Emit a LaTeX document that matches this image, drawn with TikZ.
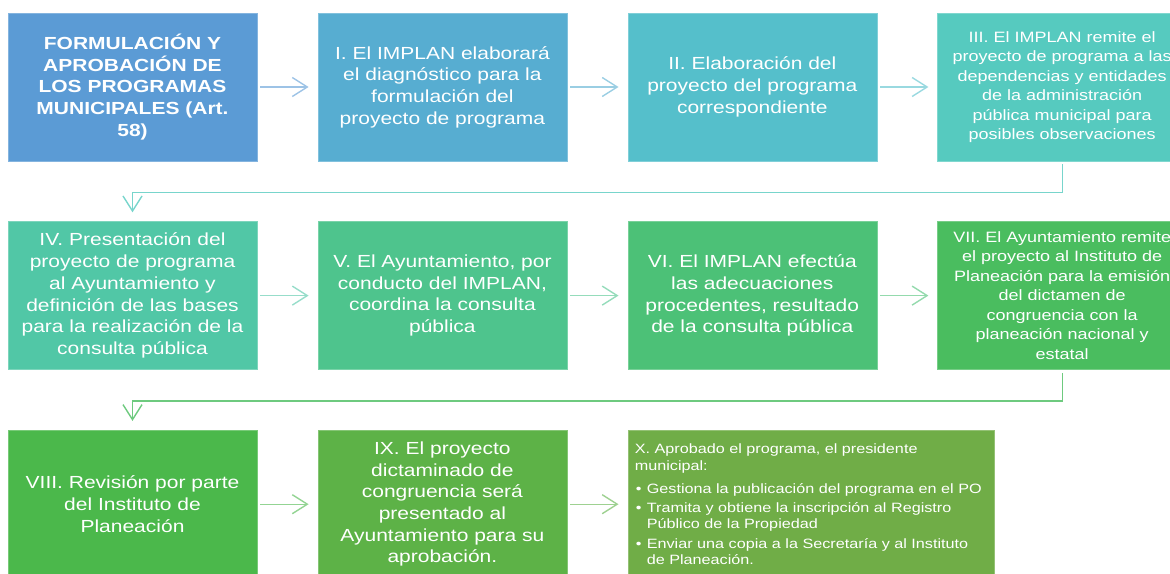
\documentclass[tikz,border=0pt]{standalone}
\usepackage{fontspec}
\setmainfont{Liberation Sans}[FakeStretch=1.2]
\usepackage{tikz}
\usetikzlibrary{
  arrows.meta,
  positioning
}
\definecolor{CBlue}{HTML}{5B9BD5}
\definecolor{CAzure}{HTML}{57ADD1}
\definecolor{CCyan}{HTML}{55BFCB}
\definecolor{CTeal}{HTML}{56CABF}
\definecolor{CAqua}{HTML}{51C7A6}
\definecolor{CJade}{HTML}{4EC48D}
\definecolor{CEmerald}{HTML}{4CC177}
\definecolor{CMint}{HTML}{4ABD5F}
\definecolor{CGreen}{HTML}{4BB84B}
\definecolor{CLeaf}{HTML}{5DB247}
\definecolor{COlive}{HTML}{70AD47}
% Bullet and hanging indent for the last box
\newcommand{\punto}{\makebox[12pt][l]{\hspace{1pt}•}}
\newcommand{\sangria}{\hspace*{12pt}}
\tikzset{
  % Step box: fixed size
  paso/.style={
    rectangle, draw=#1!75, fill=#1, line width=0.6pt,
    minimum width=249pt, minimum height=148pt, inner sep=2pt,
    align=center, text=white,
    font=\fontsize{17.5}{21.7}\selectfont
  },
  % Smaller text for the long steps
  chico/.style={font=\fontsize{15}{19.5}\selectfont},
  % Arrow between steps
  flecha/.style={
    -{Straight Barb[length=15pt,width=19pt]},
    line width=1.4pt, color=#1!60,
    shorten <=3pt, shorten >=9pt
  },
  % Elbow connector between rows
  codo/.style={flecha=#1, color=#1!80}
}

\begin{document}
\begin{tikzpicture}[x=1pt, y=1pt, node distance=60pt and 60.3pt]
  \useasboundingbox (0,0) rectangle (1170,-573);
  \clip (0,0) rectangle (1170,-573);

  % row 1
  \node[paso=CBlue, font=\fontsize{17.5}{21.7}\selectfont\bfseries] (p0) at (132.5,-87)
    {FORMULACIÓN Y\\APROBACIÓN DE\\LOS PROGRAMAS\\MUNICIPALES (Art.\\58)};
  \node[paso=CAzure, right=of p0] (p1)
    {I. El IMPLAN elaborará\\el diagnóstico para la\\formulación del\\proyecto de programa};
  \node[paso=CCyan,  right=of p1] (p2)
    {II. Elaboración del\\proyecto del programa\\correspondiente};
  \node[paso=CTeal, chico, right=of p2] (p3)
    {III.  El IMPLAN  remite el\\proyecto de programa a las\\dependencias y entidades\\de la administración\\pública municipal para\\posibles observaciones};

  % row 2
  \node[paso=CAqua,  below=of p0] (p4)
    {IV. Presentación del\\proyecto de programa\\al Ayuntamiento y\\definición de las bases\\para la realización de la\\consulta pública};
  \node[paso=CJade,  right=of p4] (p5)
    {V. El Ayuntamiento, por\\conducto del IMPLAN,\\coordina la consulta\\pública};
  \node[paso=CEmerald, right=of p5] (p6)
    {VI. El IMPLAN efectúa\\las adecuaciones\\procedentes, resultado\\de la consulta pública};
  \node[paso=CMint, chico, right=of p6] (p7)
    {VII.  El Ayuntamiento remite\\el proyecto al Instituto de\\Planeación para la emisión\\del dictamen de\\congruencia con la\\planeación nacional y\\estatal};

  % row 3
  \node[paso=CGreen, below=of p4] (p8)
    {VIII. Revisión por parte\\del Instituto de\\Planeación};
  \node[paso=CLeaf,  right=of p8] (p9)
    {IX. El proyecto\\dictaminado de\\congruencia será\\presentado al\\Ayuntamiento para su\\aprobación.};
  \node[paso=COlive, right=of p9, minimum width=366pt, text width=352pt, align=left,
        font=\fontsize{13.5}{16.5}\selectfont] (p10)
    {X. Aprobado el programa, el presidente\\municipal:\\[7pt]
     \punto Gestiona la publicación del programa en el PO\\[2pt]
     \punto Tramita y obtiene la inscripción al Registro\\
     \sangria Público de la Propiedad\\[3pt]
     \punto Enviar una copia a la Secretaría y al Instituto\\
     \sangria de Planeación.};

  \draw[flecha=CBlue]    (p0) -- (p1);
  \draw[flecha=CAzure]   (p1) -- (p2);
  \draw[flecha=CCyan]    (p2) -- (p3);
  \draw[codo=CTeal]      (p3.south) -- ++(0,-31) -| (p4.north);
  \draw[flecha=CAqua]    (p4) -- (p5);
  \draw[flecha=CJade]    (p5) -- (p6);
  \draw[flecha=CEmerald] (p6) -- (p7);
  \draw[codo=CMint]      (p7.south) -- ++(0,-31) -| (p8.north);
  \draw[flecha=CGreen]   (p8) -- (p9);
  \draw[flecha=CLeaf]    (p9) -- (p10);
\end{tikzpicture}
\end{document}
